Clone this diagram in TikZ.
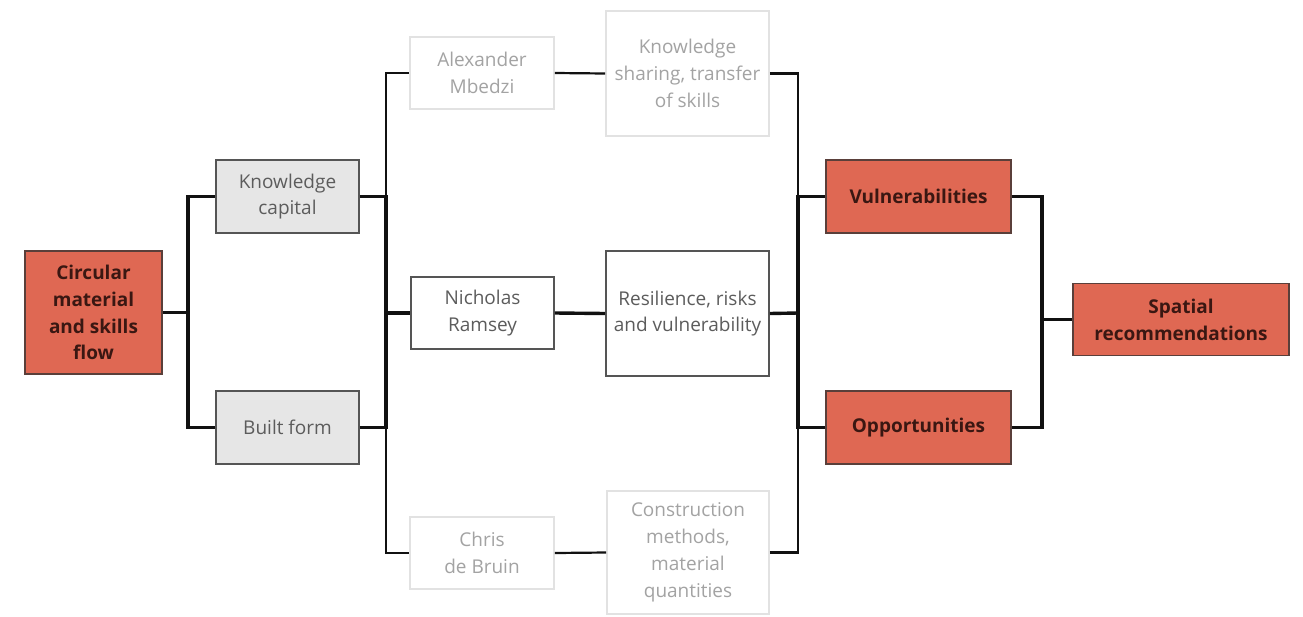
\documentclass[tikz,border=0pt]{standalone}
\usepackage{fontspec}
\setmainfont{Open Sans}
\definecolor{redfill}{HTML}{DF6853}
\definecolor{redborder}{HTML}{5A3F3A}
\definecolor{redtext}{HTML}{3A1712}
\definecolor{grayfill}{HTML}{E6E6E6}
\definecolor{grayborder}{HTML}{555555}
\definecolor{graytext}{HTML}{5C5C5C}
\definecolor{fadeborder}{HTML}{E2E2E2}
\definecolor{fadetext}{HTML}{A3A3A3}
\definecolor{linecol}{HTML}{111111}
\begin{document}
\begin{tikzpicture}[x=1pt,y=-1pt,
  box/.style={rectangle, align=center, inner sep=0pt, font=\fontsize{19}{26.8}\selectfont},
  redbox/.style={box, fill=redfill, draw=redborder, line width=1.6pt, text=redtext, font=\fontsize{19}{26.8}\selectfont\bfseries},
  graybox/.style={box, fill=grayfill, draw=grayborder, line width=1.6pt, text=graytext},
  whitebox/.style={box, fill=white, draw=grayborder, line width=1.6pt, text=graytext},
  fadebox/.style={box, fill=white, draw=fadeborder, line width=1.6pt, text=fadetext},
  mainline/.style={draw=linecol, line width=3.4pt},
  thinline/.style={draw=linecol, line width=2.2pt}]
\useasboundingbox[fill=white] (0,0) rectangle (1303,616);
% nodes
\node[redbox, minimum width=137pt, minimum height=123pt] (circ) at (93.5,312.5) {Circular\\material\\and skills\\flow};
\node[graybox, minimum width=143pt, minimum height=73pt] (kc) at (287.5,196.5) {Knowledge\\capital};
\node[graybox, minimum width=143pt, minimum height=73pt] (bf) at (287.5,427.5) {Built form};
\node[fadebox, minimum width=144pt, minimum height=72pt] (am) at (482,73) {Alexander\\Mbedzi};
\node[whitebox, minimum width=143pt, minimum height=72pt] (nr) at (482.5,313) {Nicholas\\Ramsey};
\node[fadebox, minimum width=144pt, minimum height=72pt] (cb) at (482,553) {Chris\\de Bruin};
\node[fadebox, minimum width=163pt, minimum height=125pt] (ks) at (687.5,73.5) {Knowledge\\sharing, transfer\\of skills};
\node[whitebox, minimum width=163pt, minimum height=125pt] (res) at (687.5,313.5) {Resilience, risks\\and vulnerability};
\node[fadebox, minimum width=162pt, minimum height=123pt] (cm) at (688,552.5) {Construction\\methods,\\material\\quantities};
\node[redbox, minimum width=185pt, minimum height=73pt] (vu) at (918.5,196.5) {Vulnerabilities};
\node[redbox, minimum width=185pt, minimum height=73pt] (op) at (918.5,427.5) {Opportunities};
\node[redbox, minimum width=216pt, minimum height=72pt] (sp) at (1181,319.5) {Spatial\\recommendations};
% bracket points
\coordinate (b1) at (188,312.5);
\coordinate (b2) at (386,313);
\coordinate (b3) at (798,313);
\coordinate (b4) at (1042,319.5);
% connectors
\draw[mainline] (circ.east) -- (b1);
\draw[mainline] (b1) |- (kc.west);
\draw[mainline] (b1) |- (bf.west);
\draw[thinline] (b2) |- (am.west);
\draw[thinline] (b2) |- (cb.west);
\draw[mainline] (kc.east) -| (b2);
\draw[mainline] (bf.east) -| (b2);
\draw[mainline] (b2) -- (nr.west);
\draw[thinline] (am.east) -- (ks.west);
\draw[mainline] (nr.east) -- (res.west);
\draw[thinline] (cb.east) -- (cm.west);
\draw[thinline] (ks.east) -| (b3);
\draw[thinline] (cm.east) -| (b3);
\draw[mainline] (res.east) -- (b3);
\draw[mainline] (b3) |- (vu.west);
\draw[mainline] (b3) |- (op.west);
\draw[mainline] (vu.east) -| (b4);
\draw[mainline] (op.east) -| (b4);
\draw[mainline] (b4) -- (sp.west);
\end{tikzpicture}
\end{document}
